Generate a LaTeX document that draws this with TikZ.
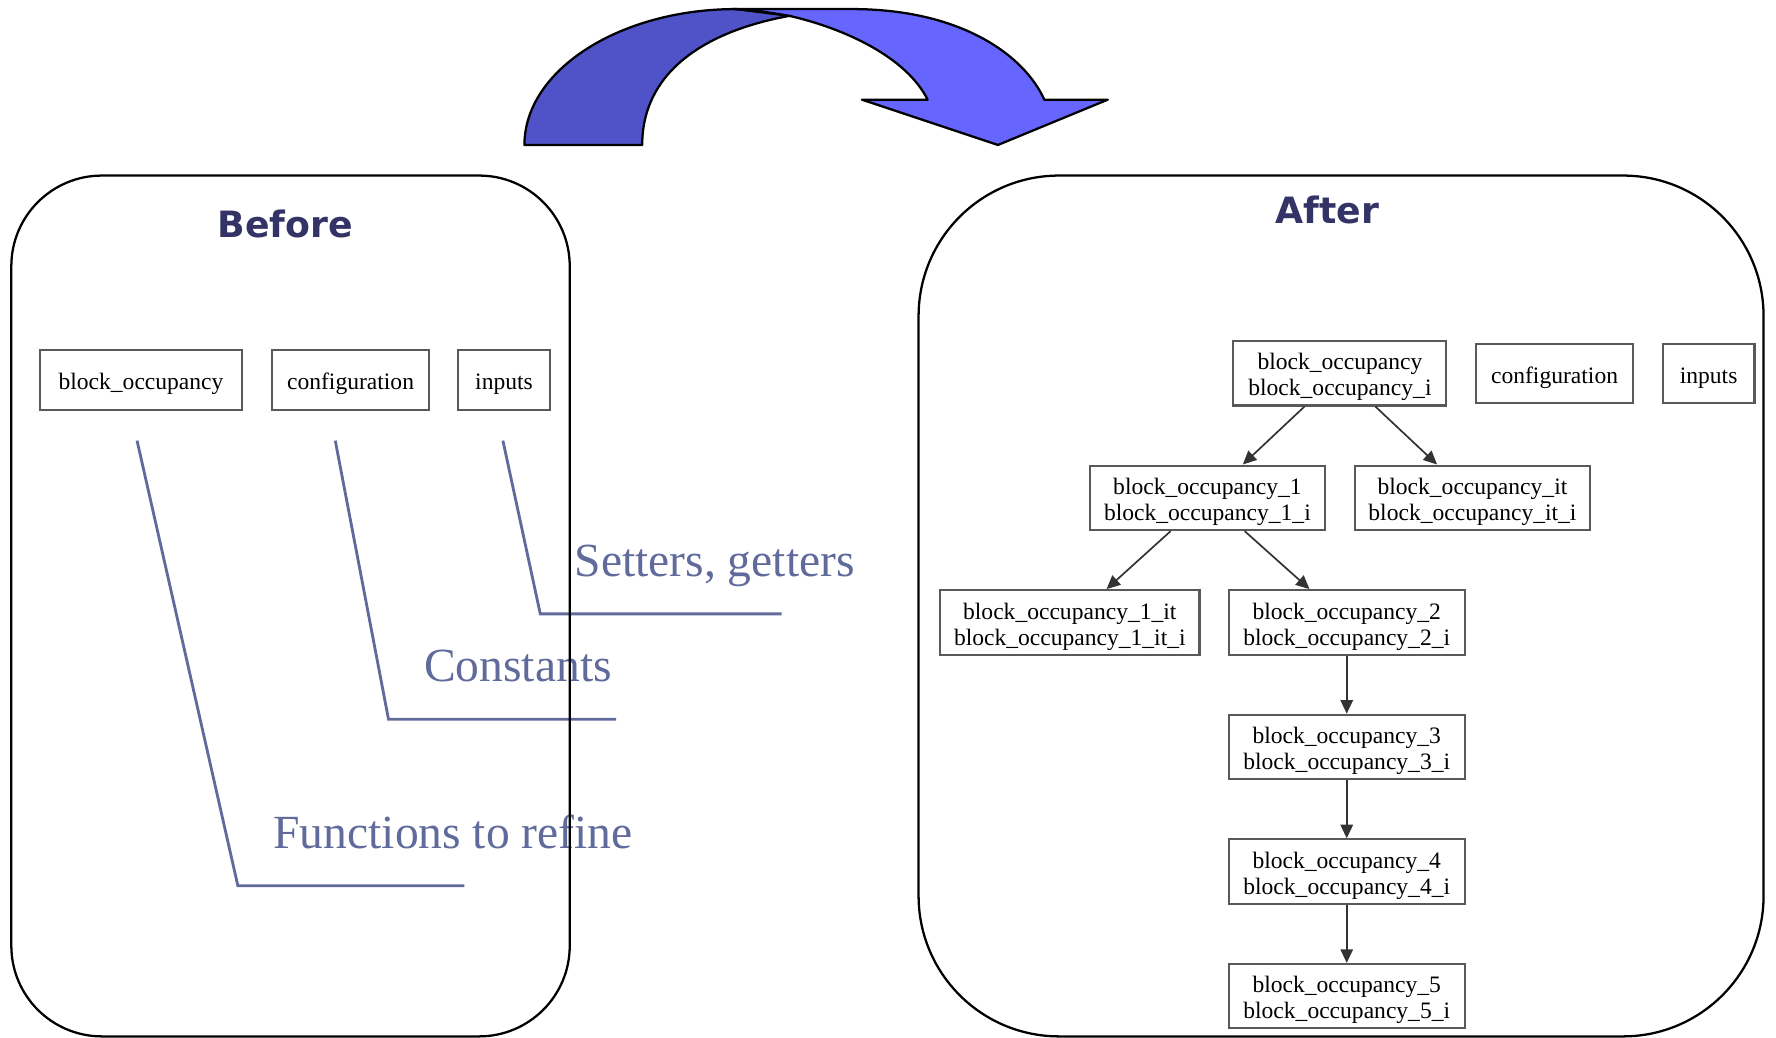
\documentclass[tikz,border=0pt]{standalone}
\usepackage{fontspec}
\setmainfont{Liberation Serif}
\newfontfamily\titlefont{DejaVu Sans}
\usetikzlibrary{arrows.meta}
\definecolor{navy}{RGB}{51,51,102}
\definecolor{callout}{RGB}{96,106,155}
\definecolor{bandDark}{RGB}{80,82,200}
\definecolor{bandLight}{RGB}{102,102,255}
\newcommand\boxtxt[1]{\raisebox{-2pt}[\height][\depth]{\begin{tabular}{@{}c@{}}#1\end{tabular}}}
\begin{document}
\begin{tikzpicture}[x=0.5pt,y=-0.5pt,
  box/.style n args={2}{draw=black!65, line width=0.9pt, minimum width=#1*0.5pt, minimum height=#2*0.5pt, inner sep=0pt, font=\fontsize{10.4}{11.5}\selectfont},
  edge/.style={-{Triangle[length=6pt,width=5.5pt]}, line width=0.75pt, draw=black!80},
  title/.style={text=navy, font=\titlefont\bfseries\fontsize{16}{19}\selectfont},
  calltext/.style={text=callout, anchor=base west, inner sep=0pt, font=\fontsize{21}{24}\selectfont},
  callline/.style={draw=callout, line width=1.25pt},
  container/.style={draw=black, line width=1pt},
  band/.style={draw=black, line width=1pt, line join=round}]
\useasboundingbox (0,0) rectangle (1568,916);

% curved arrow
\filldraw[band, fill=bandDark]
  (463,128) .. controls (463,62) and (547,8) .. (650,8) -- (697,14)
  .. controls (620,28) and (567,65) .. (567,128) -- cycle;
\filldraw[band, fill=bandLight]
  (647,8) -- (752,8) .. controls (850,8) and (905,50) .. (922,88) -- (978,88) -- (881,128)
  -- (761,88) -- (819,88) .. controls (800,50) and (745,25) .. (697,14)
  .. controls (680,11) and (665,9) .. (647,8) -- cycle;

% Before panel
\node[title] (tbefore) at (252,198) {Before};
\node[box={179}{53}] (bbo) at (124.5,335.5) {\boxtxt{block\_occupancy}};
\node[box={139}{53}] (bconf) at (309.5,335.5) {\boxtxt{configuration}};
\node[box={82}{53}] (binp) at (445,335.5) {\boxtxt{inputs}};

\node[calltext] (csg) at (507,509) {Setters, getters};
\node[calltext] (ccon) at (374,602) {Constants};
\node[calltext] (cfun) at (241,749) {Functions to refine};
\draw[callline] (444,389) -- (477,542) -- (690,542);
\draw[callline] (296,389) -- (343,635) -- (544,635);
\draw[callline] (121,389) -- (210,782) -- (410,782);

\draw[container, rounded corners=40pt] (10,155) rectangle (503,915);

% After panel
\draw[container, rounded corners=62pt] (811,155) rectangle (1557,915);
\node[title] (tafter) at (1172,185) {After};
\node[box={188}{57}] (a0) at (1183,329.5) {\boxtxt{block\_occupancy\\block\_occupancy\_i}};
\node[box={139}{52}] (aconf) at (1372.5,330) {\boxtxt{configuration}};
\node[box={81}{52}] (ainp) at (1508.5,330) {\boxtxt{inputs}};
\node[box={208}{57}] (a1) at (1066,439.5) {\boxtxt{block\_occupancy\_1\\block\_occupancy\_1\_i}};
\node[box={208}{57}] (ait) at (1300,439.5) {\boxtxt{block\_occupancy\_it\\block\_occupancy\_it\_i}};
\node[box={229}{57}] (a1it) at (944.5,549.5) {\boxtxt{block\_occupancy\_1\_it\\block\_occupancy\_1\_it\_i}};
\node[box={208}{57}] (a2) at (1189,549.5) {\boxtxt{block\_occupancy\_2\\block\_occupancy\_2\_i}};
\node[box={208}{57}] (a3) at (1189,659.5) {\boxtxt{block\_occupancy\_3\\block\_occupancy\_3\_i}};
\node[box={208}{57}] (a4) at (1189,769.5) {\boxtxt{block\_occupancy\_4\\block\_occupancy\_4\_i}};
\node[box={208}{57}] (a5) at (1189,879.5) {\boxtxt{block\_occupancy\_5\\block\_occupancy\_5\_i}};
\draw[edge] (a0) -- (a1);
\draw[edge] (a0) -- (ait);
\draw[edge] (a1) -- (a1it);
\draw[edge] (a1) -- (a2);
\draw[edge] (a2) -- (a3);
\draw[edge] (a3) -- (a4);
\draw[edge] (a4) -- (a5);
\end{tikzpicture}
\end{document}
